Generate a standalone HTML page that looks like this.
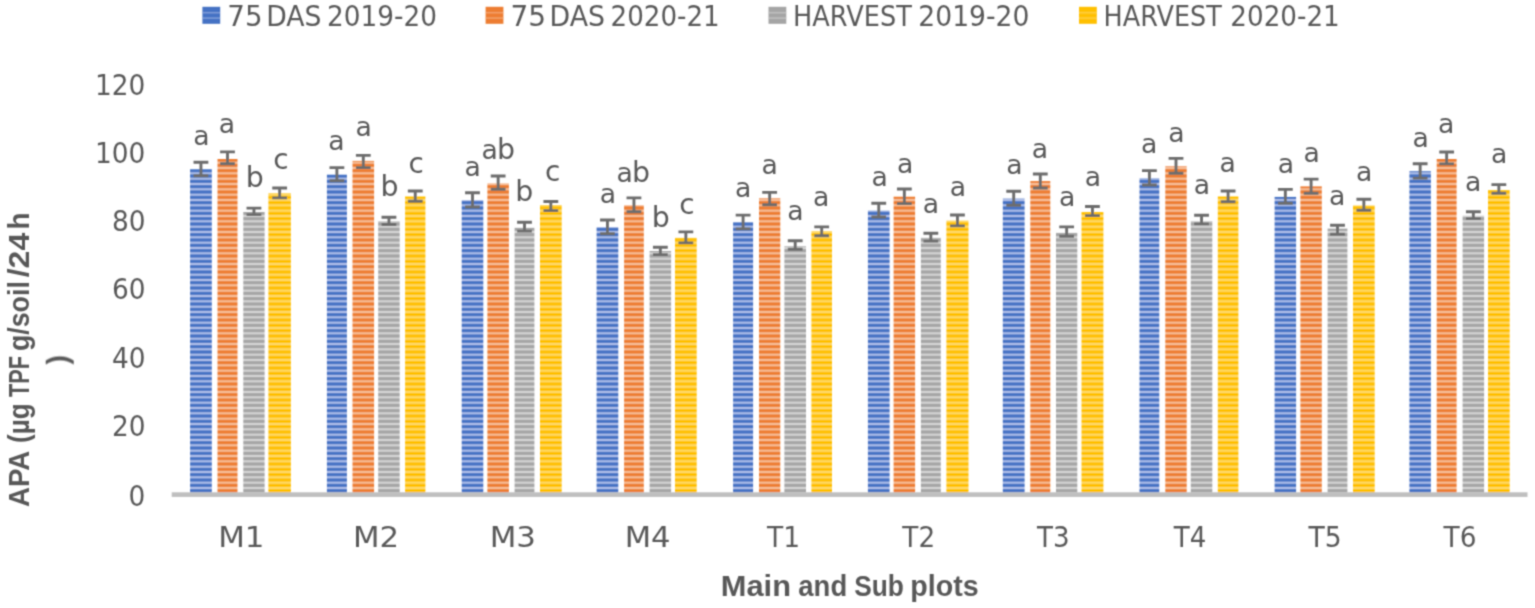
<!DOCTYPE html><html><head><meta charset="utf-8"><title>APA chart</title><style>
html,body{margin:0;padding:0;background:#fff;width:1535px;height:608px;overflow:hidden}
svg{display:block}
text{fill:#595959}
</style></head><body>
<svg width="1535" height="608" viewBox="0 0 1535 608" font-family="'Liberation Sans', Arial, sans-serif">
<defs>
<pattern id="p0" patternUnits="userSpaceOnUse" x="0" y="300" width="8" height="16">
<rect y="0" width="8" height="1" fill="#92aadf"/>
<rect y="1" width="8" height="1" fill="#aabbe7"/>
<rect y="2" width="8" height="1" fill="#6c8fd2"/>
<rect y="3" width="8" height="1" fill="#4472c4"/>
<rect y="4" width="8" height="1" fill="#4472c4"/>
<rect y="5" width="8" height="1" fill="#6c8fd2"/>
<rect y="6" width="8" height="1" fill="#aabbe7"/>
<rect y="7" width="8" height="1" fill="#92aadf"/>
<rect y="8" width="8" height="1" fill="#4673c5"/>
<rect y="9" width="8" height="1" fill="#4472c4"/>
<rect y="10" width="8" height="1" fill="#527cc9"/>
<rect y="11" width="8" height="1" fill="#aabbe7"/>
<rect y="12" width="8" height="1" fill="#aabbe7"/>
<rect y="13" width="8" height="1" fill="#527cc9"/>
<rect y="14" width="8" height="1" fill="#4472c4"/>
<rect y="15" width="8" height="1" fill="#4673c5"/>
</pattern>
<pattern id="p1" patternUnits="userSpaceOnUse" x="0" y="300" width="8" height="16">
<rect y="0" width="8" height="1" fill="#f4ad7d"/>
<rect y="1" width="8" height="1" fill="#f6bc94"/>
<rect y="2" width="8" height="1" fill="#f19658"/>
<rect y="3" width="8" height="1" fill="#ed7d31"/>
<rect y="4" width="8" height="1" fill="#ed7d31"/>
<rect y="5" width="8" height="1" fill="#f19658"/>
<rect y="6" width="8" height="1" fill="#f6bc94"/>
<rect y="7" width="8" height="1" fill="#f4ad7d"/>
<rect y="8" width="8" height="1" fill="#ed7e33"/>
<rect y="9" width="8" height="1" fill="#ed7d31"/>
<rect y="10" width="8" height="1" fill="#ee863f"/>
<rect y="11" width="8" height="1" fill="#f6bc94"/>
<rect y="12" width="8" height="1" fill="#f6bc94"/>
<rect y="13" width="8" height="1" fill="#ee863f"/>
<rect y="14" width="8" height="1" fill="#ed7d31"/>
<rect y="15" width="8" height="1" fill="#ed7e33"/>
</pattern>
<pattern id="p2" patternUnits="userSpaceOnUse" x="0" y="300" width="8" height="16">
<rect y="0" width="8" height="1" fill="#c8c8c8"/>
<rect y="1" width="8" height="1" fill="#d3d3d3"/>
<rect y="2" width="8" height="1" fill="#b7b7b7"/>
<rect y="3" width="8" height="1" fill="#a5a5a5"/>
<rect y="4" width="8" height="1" fill="#a5a5a5"/>
<rect y="5" width="8" height="1" fill="#b7b7b7"/>
<rect y="6" width="8" height="1" fill="#d3d3d3"/>
<rect y="7" width="8" height="1" fill="#c8c8c8"/>
<rect y="8" width="8" height="1" fill="#a6a6a6"/>
<rect y="9" width="8" height="1" fill="#a5a5a5"/>
<rect y="10" width="8" height="1" fill="#ababab"/>
<rect y="11" width="8" height="1" fill="#d3d3d3"/>
<rect y="12" width="8" height="1" fill="#d3d3d3"/>
<rect y="13" width="8" height="1" fill="#ababab"/>
<rect y="14" width="8" height="1" fill="#a5a5a5"/>
<rect y="15" width="8" height="1" fill="#a6a6a6"/>
</pattern>
<pattern id="p3" patternUnits="userSpaceOnUse" x="0" y="300" width="8" height="16">
<rect y="0" width="8" height="1" fill="#ffd34e"/>
<rect y="1" width="8" height="1" fill="#ffd966"/>
<rect y="2" width="8" height="1" fill="#ffca28"/>
<rect y="3" width="8" height="1" fill="#ffc000"/>
<rect y="4" width="8" height="1" fill="#ffc000"/>
<rect y="5" width="8" height="1" fill="#ffca28"/>
<rect y="6" width="8" height="1" fill="#ffd966"/>
<rect y="7" width="8" height="1" fill="#ffd34e"/>
<rect y="8" width="8" height="1" fill="#ffc002"/>
<rect y="9" width="8" height="1" fill="#ffc000"/>
<rect y="10" width="8" height="1" fill="#ffc40e"/>
<rect y="11" width="8" height="1" fill="#ffd966"/>
<rect y="12" width="8" height="1" fill="#ffd966"/>
<rect y="13" width="8" height="1" fill="#ffc40e"/>
<rect y="14" width="8" height="1" fill="#ffc000"/>
<rect y="15" width="8" height="1" fill="#ffc002"/>
</pattern>
<filter id="bl" filterUnits="userSpaceOnUse" x="0" y="0" width="1535" height="608"><feConvolveMatrix order="3" kernelMatrix="0.0400 0.1200 0.0400 0.1200 0.3600 0.1200 0.0400 0.1200 0.0400" divisor="1" edgeMode="none"/></filter>
</defs>
<rect width="1535" height="608" fill="#fff"/>
<g filter="url(#bl)">
<rect x="190.1" y="169.2" width="21.7" height="325.4" fill="url(#p0)"/>
<rect x="217.5" y="159" width="20" height="335.6" fill="url(#p1)"/>
<rect x="243.3" y="212" width="21.3" height="282.6" fill="url(#p2)"/>
<rect x="268.4" y="193.3" width="22.5" height="301.3" fill="url(#p3)"/>
<rect x="326.9" y="174.6" width="20" height="320" fill="url(#p0)"/>
<rect x="352.5" y="160.9" width="21.6" height="333.7" fill="url(#p1)"/>
<rect x="378.2" y="221" width="21.5" height="273.6" fill="url(#p2)"/>
<rect x="405.1" y="196.5" width="20.3" height="298.1" fill="url(#p3)"/>
<rect x="461.7" y="200.1" width="21.6" height="294.5" fill="url(#p0)"/>
<rect x="487.4" y="183.3" width="21.5" height="311.3" fill="url(#p1)"/>
<rect x="514.6" y="227.7" width="19.8" height="266.9" fill="url(#p2)"/>
<rect x="540" y="205" width="21.7" height="289.6" fill="url(#p3)"/>
<rect x="596.6" y="227.2" width="21.7" height="267.4" fill="url(#p0)"/>
<rect x="624.1" y="205.2" width="19.7" height="289.4" fill="url(#p1)"/>
<rect x="649.6" y="251" width="21.5" height="243.6" fill="url(#p2)"/>
<rect x="675" y="237.8" width="21.7" height="256.8" fill="url(#p3)"/>
<rect x="733.1" y="222.2" width="20" height="272.4" fill="url(#p0)"/>
<rect x="759" y="198.3" width="21.3" height="296.3" fill="url(#p1)"/>
<rect x="784.4" y="246.3" width="21.6" height="248.3" fill="url(#p2)"/>
<rect x="811.4" y="231.1" width="20.6" height="263.5" fill="url(#p3)"/>
<rect x="867.9" y="210.5" width="21.7" height="284.1" fill="url(#p0)"/>
<rect x="893.6" y="196.7" width="21.5" height="297.9" fill="url(#p1)"/>
<rect x="920.9" y="237.7" width="19.9" height="256.9" fill="url(#p2)"/>
<rect x="946.4" y="220.6" width="22.1" height="274" fill="url(#p3)"/>
<rect x="1002.8" y="198.6" width="21.8" height="296" fill="url(#p0)"/>
<rect x="1030.3" y="181.1" width="20" height="313.5" fill="url(#p1)"/>
<rect x="1056" y="232.8" width="21.3" height="261.8" fill="url(#p2)"/>
<rect x="1081.5" y="212.1" width="21.9" height="282.5" fill="url(#p3)"/>
<rect x="1139.5" y="178.1" width="19.8" height="316.5" fill="url(#p0)"/>
<rect x="1165.3" y="166.3" width="21.4" height="328.3" fill="url(#p1)"/>
<rect x="1190.8" y="221" width="21.5" height="273.6" fill="url(#p2)"/>
<rect x="1217.8" y="196.5" width="20.6" height="298.1" fill="url(#p3)"/>
<rect x="1274.6" y="196.9" width="21.5" height="297.7" fill="url(#p0)"/>
<rect x="1300.4" y="186.4" width="21.4" height="308.2" fill="url(#p1)"/>
<rect x="1327.6" y="228.6" width="19.8" height="266" fill="url(#p2)"/>
<rect x="1353" y="205.4" width="21.7" height="289.2" fill="url(#p3)"/>
<rect x="1409.4" y="171.2" width="21.5" height="323.4" fill="url(#p0)"/>
<rect x="1436.7" y="159" width="19.9" height="335.6" fill="url(#p1)"/>
<rect x="1462.6" y="215.6" width="21.5" height="279" fill="url(#p2)"/>
<rect x="1488" y="190" width="21.7" height="304.6" fill="url(#p3)"/>
<rect x="171.7" y="492.3" width="1355.8" height="4.6" fill="#bfbfbf"/>
<path d="M193.55 162.3H208.35M193.55 175.7H208.35M200.95 162.3V175.7" stroke="#6d6d6d" stroke-width="2.9" fill="none"/>
<path d="M220.1 151.9H234.9M220.1 163.7H234.9M227.5 151.9V163.7" stroke="#6d6d6d" stroke-width="2.9" fill="none"/>
<path d="M246.55 208.1H261.35M246.55 214.6H261.35M253.95 208.1V214.6" stroke="#6d6d6d" stroke-width="2.9" fill="none"/>
<path d="M272.25 188H287.05M272.25 197.9H287.05M279.65 188V197.9" stroke="#6d6d6d" stroke-width="2.9" fill="none"/>
<path d="M329.5 167.6H344.3M329.5 180.7H344.3M336.9 167.6V180.7" stroke="#6d6d6d" stroke-width="2.9" fill="none"/>
<path d="M355.9 155.4H370.7M355.9 167.6H370.7M363.3 155.4V167.6" stroke="#6d6d6d" stroke-width="2.9" fill="none"/>
<path d="M381.55 217.2H396.35M381.55 224.5H396.35M388.95 217.2V224.5" stroke="#6d6d6d" stroke-width="2.9" fill="none"/>
<path d="M407.85 191H422.65M407.85 201.2H422.65M415.25 191V201.2" stroke="#6d6d6d" stroke-width="2.9" fill="none"/>
<path d="M465.1 192.8H479.9M465.1 207H479.9M472.5 192.8V207" stroke="#6d6d6d" stroke-width="2.9" fill="none"/>
<path d="M490.75 176H505.55M490.75 189.2H505.55M498.15 176V189.2" stroke="#6d6d6d" stroke-width="2.9" fill="none"/>
<path d="M517.1 222.2H531.9M517.1 231.1H531.9M524.5 222.2V231.1" stroke="#6d6d6d" stroke-width="2.9" fill="none"/>
<path d="M543.45 201.5H558.25M543.45 210.6H558.25M550.85 201.5V210.6" stroke="#6d6d6d" stroke-width="2.9" fill="none"/>
<path d="M600.05 220H614.85M600.05 233.8H614.85M607.45 220V233.8" stroke="#6d6d6d" stroke-width="2.9" fill="none"/>
<path d="M626.55 197.9H641.35M626.55 211.7H641.35M633.95 197.9V211.7" stroke="#6d6d6d" stroke-width="2.9" fill="none"/>
<path d="M652.95 247.3H667.75M652.95 254.6H667.75M660.35 247.3V254.6" stroke="#6d6d6d" stroke-width="2.9" fill="none"/>
<path d="M678.45 231.9H693.25M678.45 242.9H693.25M685.85 231.9V242.9" stroke="#6d6d6d" stroke-width="2.9" fill="none"/>
<path d="M735.7 215.1H750.5M735.7 228.9H750.5M743.1 215.1V228.9" stroke="#6d6d6d" stroke-width="2.9" fill="none"/>
<path d="M762.25 192.4H777.05M762.25 204.8H777.05M769.65 192.4V204.8" stroke="#6d6d6d" stroke-width="2.9" fill="none"/>
<path d="M787.8 240.7H802.6M787.8 249.2H802.6M795.2 240.7V249.2" stroke="#6d6d6d" stroke-width="2.9" fill="none"/>
<path d="M814.3 226.9H829.1M814.3 235.8H829.1M821.7 226.9V235.8" stroke="#6d6d6d" stroke-width="2.9" fill="none"/>
<path d="M871.35 203.2H886.15M871.35 217H886.15M878.75 203.2V217" stroke="#6d6d6d" stroke-width="2.9" fill="none"/>
<path d="M896.95 189H911.75M896.95 203.6H911.75M904.35 189V203.6" stroke="#6d6d6d" stroke-width="2.9" fill="none"/>
<path d="M923.45 233.2H938.25M923.45 241.1H938.25M930.85 233.2V241.1" stroke="#6d6d6d" stroke-width="2.9" fill="none"/>
<path d="M950.05 215H964.85M950.05 225.9H964.85M957.45 215V225.9" stroke="#6d6d6d" stroke-width="2.9" fill="none"/>
<path d="M1006.3 191.3H1021.1M1006.3 205.2H1021.1M1013.7 191.3V205.2" stroke="#6d6d6d" stroke-width="2.9" fill="none"/>
<path d="M1032.9 174H1047.7M1032.9 188H1047.7M1040.3 174V188" stroke="#6d6d6d" stroke-width="2.9" fill="none"/>
<path d="M1059.25 226.9H1074.05M1059.25 236.3H1074.05M1066.65 226.9V236.3" stroke="#6d6d6d" stroke-width="2.9" fill="none"/>
<path d="M1085.05 206.5H1099.85M1085.05 215.6H1099.85M1092.45 206.5V215.6" stroke="#6d6d6d" stroke-width="2.9" fill="none"/>
<path d="M1142 170.6H1156.8M1142 185H1156.8M1149.4 170.6V185" stroke="#6d6d6d" stroke-width="2.9" fill="none"/>
<path d="M1168.6 158.4H1183.4M1168.6 173.2H1183.4M1176 158.4V173.2" stroke="#6d6d6d" stroke-width="2.9" fill="none"/>
<path d="M1194.15 215.2H1208.95M1194.15 223.9H1208.95M1201.55 215.2V223.9" stroke="#6d6d6d" stroke-width="2.9" fill="none"/>
<path d="M1220.7 191H1235.5M1220.7 201.8H1235.5M1228.1 191V201.8" stroke="#6d6d6d" stroke-width="2.9" fill="none"/>
<path d="M1277.95 189.4H1292.75M1277.95 203.2H1292.75M1285.35 189.4V203.2" stroke="#6d6d6d" stroke-width="2.9" fill="none"/>
<path d="M1303.7 179.1H1318.5M1303.7 193.3H1318.5M1311.1 179.1V193.3" stroke="#6d6d6d" stroke-width="2.9" fill="none"/>
<path d="M1330.1 225.3H1344.9M1330.1 234.2H1344.9M1337.5 225.3V234.2" stroke="#6d6d6d" stroke-width="2.9" fill="none"/>
<path d="M1356.45 199.2H1371.25M1356.45 210.3H1371.25M1363.85 199.2V210.3" stroke="#6d6d6d" stroke-width="2.9" fill="none"/>
<path d="M1412.75 163.7H1427.55M1412.75 178.1H1427.55M1420.15 163.7V178.1" stroke="#6d6d6d" stroke-width="2.9" fill="none"/>
<path d="M1439.25 152H1454.05M1439.25 163.9H1454.05M1446.65 152V163.9" stroke="#6d6d6d" stroke-width="2.9" fill="none"/>
<path d="M1465.95 211.7H1480.75M1465.95 218.6H1480.75M1473.35 211.7V218.6" stroke="#6d6d6d" stroke-width="2.9" fill="none"/>
<path d="M1491.45 184.6H1506.25M1491.45 193.3H1506.25M1498.85 184.6V193.3" stroke="#6d6d6d" stroke-width="2.9" fill="none"/>
<text transform="matrix(0.267 0 0 0.274 193.196 145.076)" font-size="100" font-family="'DejaVu Sans', sans-serif">a</text>
<text transform="matrix(0.267 0 0 0.274 218.696 132.976)" font-size="100" font-family="'DejaVu Sans', sans-serif">a</text>
<text transform="matrix(0.284 0 0 0.287 245.797 187.463)" font-size="100" font-family="'DejaVu Sans', sans-serif">b</text>
<text transform="matrix(0.279 0 0 0.275 273.326 168.775)" font-size="100" font-family="'DejaVu Sans', sans-serif">c</text>
<text transform="matrix(0.267 0 0 0.274 328.146 149.576)" font-size="100" font-family="'DejaVu Sans', sans-serif">a</text>
<text transform="matrix(0.267 0 0 0.274 355.546 136.376)" font-size="100" font-family="'DejaVu Sans', sans-serif">a</text>
<text transform="matrix(0.284 0 0 0.287 380.597 196.463)" font-size="100" font-family="'DejaVu Sans', sans-serif">b</text>
<text transform="matrix(0.279 0 0 0.275 408.526 172.975)" font-size="100" font-family="'DejaVu Sans', sans-serif">c</text>
<text transform="matrix(0.267 0 0 0.274 464.446 176.076)" font-size="100" font-family="'DejaVu Sans', sans-serif">a</text>
<text transform="matrix(0.267 0 0 0.274 481.596 159.076)" font-size="100" font-family="'DejaVu Sans', sans-serif">a</text>
<text transform="matrix(0.284 0 0 0.287 496.897 159.063)" font-size="100" font-family="'DejaVu Sans', sans-serif">b</text>
<text transform="matrix(0.284 0 0 0.287 515.197 201.363)" font-size="100" font-family="'DejaVu Sans', sans-serif">b</text>
<text transform="matrix(0.279 0 0 0.275 544.926 181.475)" font-size="100" font-family="'DejaVu Sans', sans-serif">c</text>
<text transform="matrix(0.267 0 0 0.274 599.646 202.776)" font-size="100" font-family="'DejaVu Sans', sans-serif">a</text>
<text transform="matrix(0.267 0 0 0.274 616.596 181.776)" font-size="100" font-family="'DejaVu Sans', sans-serif">a</text>
<text transform="matrix(0.284 0 0 0.287 631.897 181.763)" font-size="100" font-family="'DejaVu Sans', sans-serif">b</text>
<text transform="matrix(0.284 0 0 0.287 651.697 227.063)" font-size="100" font-family="'DejaVu Sans', sans-serif">b</text>
<text transform="matrix(0.279 0 0 0.275 679.226 213.975)" font-size="100" font-family="'DejaVu Sans', sans-serif">c</text>
<text transform="matrix(0.267 0 0 0.274 734.946 196.576)" font-size="100" font-family="'DejaVu Sans', sans-serif">a</text>
<text transform="matrix(0.267 0 0 0.274 761.546 174.276)" font-size="100" font-family="'DejaVu Sans', sans-serif">a</text>
<text transform="matrix(0.267 0 0 0.274 787.346 219.876)" font-size="100" font-family="'DejaVu Sans', sans-serif">a</text>
<text transform="matrix(0.267 0 0 0.274 813.046 206.376)" font-size="100" font-family="'DejaVu Sans', sans-serif">a</text>
<text transform="matrix(0.267 0 0 0.274 871.446 185.876)" font-size="100" font-family="'DejaVu Sans', sans-serif">a</text>
<text transform="matrix(0.267 0 0 0.274 896.946 172.676)" font-size="100" font-family="'DejaVu Sans', sans-serif">a</text>
<text transform="matrix(0.267 0 0 0.274 922.646 213.076)" font-size="100" font-family="'DejaVu Sans', sans-serif">a</text>
<text transform="matrix(0.267 0 0 0.274 949.646 196.376)" font-size="100" font-family="'DejaVu Sans', sans-serif">a</text>
<text transform="matrix(0.267 0 0 0.274 1006.246 174.076)" font-size="100" font-family="'DejaVu Sans', sans-serif">a</text>
<text transform="matrix(0.267 0 0 0.274 1031.746 157.676)" font-size="100" font-family="'DejaVu Sans', sans-serif">a</text>
<text transform="matrix(0.267 0 0 0.274 1059.046 206.176)" font-size="100" font-family="'DejaVu Sans', sans-serif">a</text>
<text transform="matrix(0.267 0 0 0.274 1084.746 186.476)" font-size="100" font-family="'DejaVu Sans', sans-serif">a</text>
<text transform="matrix(0.267 0 0 0.274 1140.946 153.376)" font-size="100" font-family="'DejaVu Sans', sans-serif">a</text>
<text transform="matrix(0.267 0 0 0.274 1168.146 142.176)" font-size="100" font-family="'DejaVu Sans', sans-serif">a</text>
<text transform="matrix(0.267 0 0 0.274 1193.846 194.076)" font-size="100" font-family="'DejaVu Sans', sans-serif">a</text>
<text transform="matrix(0.267 0 0 0.274 1219.546 171.976)" font-size="100" font-family="'DejaVu Sans', sans-serif">a</text>
<text transform="matrix(0.267 0 0 0.274 1277.746 172.676)" font-size="100" font-family="'DejaVu Sans', sans-serif">a</text>
<text transform="matrix(0.267 0 0 0.274 1303.446 162.176)" font-size="100" font-family="'DejaVu Sans', sans-serif">a</text>
<text transform="matrix(0.267 0 0 0.274 1329.046 204.876)" font-size="100" font-family="'DejaVu Sans', sans-serif">a</text>
<text transform="matrix(0.267 0 0 0.274 1355.946 180.576)" font-size="100" font-family="'DejaVu Sans', sans-serif">a</text>
<text transform="matrix(0.267 0 0 0.274 1412.546 146.576)" font-size="100" font-family="'DejaVu Sans', sans-serif">a</text>
<text transform="matrix(0.267 0 0 0.274 1437.946 132.776)" font-size="100" font-family="'DejaVu Sans', sans-serif">a</text>
<text transform="matrix(0.267 0 0 0.274 1465.046 191.076)" font-size="100" font-family="'DejaVu Sans', sans-serif">a</text>
<text transform="matrix(0.267 0 0 0.274 1490.946 163.376)" font-size="100" font-family="'DejaVu Sans', sans-serif">a</text>
<text transform="matrix(0.264 0 0 0.284 128.593 505.966)" font-size="100" font-family="'DejaVu Sans', sans-serif">0</text>
<text transform="matrix(0.264 0 0 0.284 111.951 436.216)" font-size="100" font-family="'DejaVu Sans', sans-serif">20</text>
<text transform="matrix(0.264 0 0 0.284 111.951 367.716)" font-size="100" font-family="'DejaVu Sans', sans-serif">40</text>
<text transform="matrix(0.264 0 0 0.284 111.951 299.266)" font-size="100" font-family="'DejaVu Sans', sans-serif">60</text>
<text transform="matrix(0.264 0 0 0.284 111.951 230.916)" font-size="100" font-family="'DejaVu Sans', sans-serif">80</text>
<text transform="matrix(0.264 0 0 0.284 95.044 162.616)" font-size="100" font-family="'DejaVu Sans', sans-serif">100</text>
<text transform="matrix(0.264 0 0 0.284 95.044 94.616)" font-size="100" font-family="'DejaVu Sans', sans-serif">120</text>
<text transform="matrix(0.309 0 0 0.282 218.158 546.6)" font-size="100" font-family="'DejaVu Sans', sans-serif">M1</text>
<text transform="matrix(0.308 0 0 0.282 352.965 546.6)" font-size="100" font-family="'DejaVu Sans', sans-serif">M2</text>
<text transform="matrix(0.309 0 0 0.282 489.659 546.6)" font-size="100" font-family="'DejaVu Sans', sans-serif">M3</text>
<text transform="matrix(0.306 0 0 0.282 624.69 546.6)" font-size="100" font-family="'DejaVu Sans', sans-serif">M4</text>
<text transform="matrix(0.265 0 0 0.282 767.05 546.6)" font-size="100" font-family="'DejaVu Sans', sans-serif">T1</text>
<text transform="matrix(0.263 0 0 0.282 902.35 546.6)" font-size="100" font-family="'DejaVu Sans', sans-serif">T2</text>
<text transform="matrix(0.261 0 0 0.282 1037.05 546.6)" font-size="100" font-family="'DejaVu Sans', sans-serif">T3</text>
<text transform="matrix(0.261 0 0 0.282 1173.75 546.6)" font-size="100" font-family="'DejaVu Sans', sans-serif">T4</text>
<text transform="matrix(0.266 0 0 0.282 1308.45 546.6)" font-size="100" font-family="'DejaVu Sans', sans-serif">T5</text>
<text transform="matrix(0.264 0 0 0.282 1443.55 546.6)" font-size="100" font-family="'DejaVu Sans', sans-serif">T6</text>
<rect x="202.4" y="6.8" width="17.8" height="17" fill="#4472C4"/>
<rect x="202.4" y="11.9" width="17.8" height="1.6" fill="#aabbe7" fill-opacity="0.55"/>
<rect x="202.4" y="17.3" width="17.8" height="1.6" fill="#aabbe7" fill-opacity="0.55"/>
<text transform="matrix(0.277 0 0 0.282 227.332 25.75)" font-size="100" font-family="'DejaVu Sans', sans-serif">75</text>
<text transform="matrix(0.267 0 0 0.282 266.178 25.75)" font-size="100" font-family="'DejaVu Sans', sans-serif">DAS</text>
<text transform="matrix(0.263 0 0 0.282 327.106 25.75)" font-size="100" font-family="'DejaVu Sans', sans-serif">2019-20</text>
<rect x="485.6" y="6.8" width="17.8" height="17" fill="#ED7D31"/>
<rect x="485.6" y="11.9" width="17.8" height="1.6" fill="#f6bc94" fill-opacity="0.55"/>
<rect x="485.6" y="17.3" width="17.8" height="1.6" fill="#f6bc94" fill-opacity="0.55"/>
<text transform="matrix(0.28 0 0 0.282 510.51 25.75)" font-size="100" font-family="'DejaVu Sans', sans-serif">75</text>
<text transform="matrix(0.268 0 0 0.282 549.573 25.75)" font-size="100" font-family="'DejaVu Sans', sans-serif">DAS</text>
<text transform="matrix(0.261 0 0 0.282 610.622 25.75)" font-size="100" font-family="'DejaVu Sans', sans-serif">2020-21</text>
<rect x="768.5" y="6.8" width="17.8" height="17" fill="#A5A5A5"/>
<rect x="768.5" y="11.9" width="17.8" height="1.6" fill="#d3d3d3" fill-opacity="0.55"/>
<rect x="768.5" y="17.3" width="17.8" height="1.6" fill="#d3d3d3" fill-opacity="0.55"/>
<text transform="matrix(0.256 0 0 0.282 793.086 25.75)" font-size="100" font-family="'DejaVu Sans', sans-serif">HARVEST</text>
<text transform="matrix(0.266 0 0 0.282 918.287 25.75)" font-size="100" font-family="'DejaVu Sans', sans-serif">2019-20</text>
<rect x="1079" y="6.8" width="17.8" height="17" fill="#FFC000"/>
<rect x="1079" y="11.9" width="17.8" height="1.6" fill="#ffd966" fill-opacity="0.55"/>
<rect x="1079" y="17.3" width="17.8" height="1.6" fill="#ffd966" fill-opacity="0.55"/>
<text transform="matrix(0.255 0 0 0.282 1103.597 25.75)" font-size="100" font-family="'DejaVu Sans', sans-serif">HARVEST</text>
<text transform="matrix(0.262 0 0 0.282 1230.316 25.75)" font-size="100" font-family="'DejaVu Sans', sans-serif">2020-21</text>
<text transform="matrix(0.308 0 0 0.29 720.795 595.7)" font-size="100" font-weight="bold">Main</text>
<text transform="matrix(0.275 0 0 0.29 798.325 595.7)" font-size="100" font-weight="bold">and</text>
<text transform="matrix(0.263 0 0 0.29 854.262 595.7)" font-size="100" font-weight="bold">Sub</text>
<text transform="matrix(0.286 0 0 0.29 910.345 595.7)" font-size="100" font-weight="bold">plots</text>
<g transform="rotate(-90)"><text transform="matrix(0.277 0 0 0.29 -507.082 28.8)" font-size="100" font-weight="bold">APA</text><text transform="matrix(0.261 0 0 0.29 -442.954 28.8)" font-size="100" font-weight="bold">(µg</text><text transform="matrix(0.217 0 0 0.29 -397.067 28.8)" font-size="100" font-weight="bold">TPF</text><text transform="matrix(0.268 0 0 0.29 -351.12 28.8)" font-size="100" font-weight="bold">g/soil</text><text transform="matrix(0.32 0 0 0.29 -277.27 28.8)" font-size="100" font-weight="bold">/24</text><text transform="matrix(0.279 0 0 0.29 -229.504 28.8)" font-size="100" font-weight="bold">h</text><text transform="matrix(0.29 0 0 0.29 -364.56 67.82)" font-size="100" font-weight="bold">)</text></g>
</g>
</svg></body></html>
